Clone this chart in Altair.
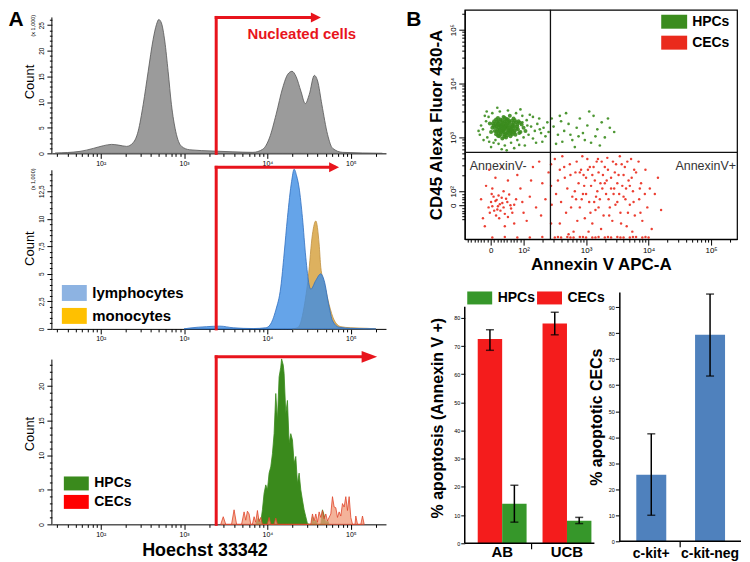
import math
import altair as alt
import pandas as pd

FONT = "Liberation Sans"
GATE_RED = "#e8141c"

# ---------------- Panel A: Hoechst 33342 histograms ----------------
# x positions read on the log axis (in decades), counts in thousands (top, middle) or events (bottom)
all_log10 = [1.454, 1.753, 1.912, 2.032, 2.131, 2.211, 2.311, 2.390, 2.450, 2.510,
             2.570, 2.629, 2.669, 2.697, 2.729, 2.769, 2.809, 2.849, 2.900, 2.968,
             3.068, 3.347, 3.586, 3.825, 3.944, 4.024, 4.104, 4.183, 4.243, 4.295,
             4.343, 4.402, 4.454, 4.502, 4.562, 4.602, 4.653, 4.721, 4.781, 4.900, 5.378]
all_count = [0.06, 0.39, 0.97, 1.49, 1.75, 1.62, 1.36, 2.08, 4.34, 9.53,
             16.0, 22.2, 25.1, 26.1, 25.4, 21.9, 16.0, 9.5, 4.3, 1.4,
             0.7, 0.45, 0.3, 0.2, 0.8, 3.0, 7.6, 12.8, 15.4, 16.0,
             15.0, 12.1, 9.7, 11.5, 15.2, 14.1, 9.5, 3.7, 1.0, 0.2, 0.0]

lym_log10 = [3.00, 3.07, 3.27, 3.43, 3.59, 3.83, 3.98, 4.03, 4.10, 4.16,
             4.20, 4.24, 4.29, 4.32, 4.35, 4.38, 4.42, 4.46, 4.50, 4.52,
             4.58, 4.64, 4.68, 4.74, 4.78, 4.86, 5.00, 5.30]
lym_count = [0, 0.08, 0.2, 0.25, 0.1, 0.03, 0.1, 0.35, 1.7, 3.8,
             6.8, 10.1, 13.4, 14.5, 13.9, 12.8, 10.1, 6.5, 4.0, 3.6,
             4.4, 5.0, 4.4, 2.0, 0.75, 0.15, 0.05, 0]

mono_log10 = [4.30, 4.36, 4.40, 4.44, 4.49, 4.54, 4.58, 4.62, 4.64, 4.68,
              4.74, 4.80, 4.88, 5.00, 5.20, 5.30]
mono_count = [0, 0.1, 0.6, 2.0, 4.7, 8.6, 9.8, 7.7, 5.6, 4.2,
              2.2, 0.8, 0.2, 0.1, 0.05, 0]

hpc_log10 = [3.86, 3.89, 3.92, 3.94, 3.96, 3.98, 4.00, 4.02, 4.04, 4.06,
             4.08, 4.10, 4.12, 4.14, 4.16, 4.17, 4.19, 4.20, 4.22, 4.24,
             4.26, 4.28, 4.30, 4.32, 4.34, 4.36, 4.38, 4.40, 4.42, 4.44,
             4.46, 4.48, 4.50, 4.53, 4.54, 4.56, 4.58, 4.60, 4.64, 4.66,
             4.68, 4.70, 4.72, 4.74]
hpc_count = [0, 0.9, 0.3, 2.1, 4.5, 5.7, 5.0, 7.4, 8.3, 10.2,
             13.1, 18.9, 15.0, 21.3, 22.7, 23.9, 23.0, 21.8, 16.0, 17.9,
             11.7, 13.1, 12.2, 8.8, 9.8, 5.9, 7.4, 5.0, 3.5, 2.1,
             1.1, 0.1, 0, 0, 1.1, 0.3, 0.6, 0, 0, 2.1,
             1.3, 0.2, 0.6, 0]

cec_log10 = [3.44, 3.47, 3.50, 3.57, 3.60, 3.63, 3.69, 3.72, 3.74, 3.76,
             3.78, 3.80, 3.82, 3.84, 3.86, 3.88, 3.90, 3.92, 3.94, 4.00,
             4.02, 4.04, 4.08, 4.10, 4.12, 4.52, 4.54, 4.56, 4.58, 4.60,
             4.62, 4.64, 4.66, 4.68, 4.70, 4.72, 4.76, 4.78, 4.80, 4.82,
             4.84, 4.86, 4.88, 4.90, 4.92, 4.94, 4.96, 4.98, 5.00, 5.02,
             5.05, 5.06, 5.08, 5.12, 5.14, 5.16]
cec_count = [0, 1.1, 0, 0, 2.1, 0, 0, 1.8, 0.6, 1.9,
             1.5, 0, 0, 1.1, 0.3, 2.0, 0.4, 1.0, 0, 0,
             1.0, 0, 0, 0.9, 0, 0, 1.5, 0.5, 1.5, 0.3,
             1.8, 1.0, 2.0, 0.8, 1.5, 0.5, 1.5, 4.0, 2.5, 2.4,
             1.0, 1.8, 1.2, 3.0, 2.5, 4.0, 2.0, 4.0, 1.0, 0,
             0, 1.2, 0, 0, 1.2, 0]

gate_value = 2430                      # nucleated-cell gate
arrow_tip = {"top": 38100, "mid": 63000, "bot": 167000}

# ---------------- Panel B: CD45 / Annexin V dot plot (display decades) ----------------
hpc_core = [
    (1.70, 3.19), (1.62, 3.22), (1.78, 3.15), (1.66, 3.28), (1.74, 3.10), (1.58, 3.14), (1.82, 3.24), (1.69, 3.05), (1.55, 3.25), (1.86, 3.12),
    (1.63, 3.33), (1.77, 3.30), (1.50, 3.18), (1.90, 3.20), (1.72, 3.00), (1.60, 3.08), (1.84, 3.35), (1.68, 3.38), (1.53, 3.30), (1.95, 3.10),
    (1.75, 3.22), (1.65, 3.17), (1.80, 3.08), (1.57, 3.20), (1.71, 3.26), (1.88, 3.28), (1.61, 3.02), (1.79, 3.02), (1.48, 3.10), (2.00, 3.18),
    (1.67, 3.12), (1.73, 3.34), (1.59, 3.36), (1.83, 3.17), (1.52, 3.22), (1.92, 3.30), (1.64, 3.24), (1.76, 3.13), (1.70, 3.29), (1.56, 3.06),
    (1.87, 3.05), (1.81, 3.31), (1.62, 3.15), (1.74, 3.18), (1.68, 3.21), (1.97, 3.24), (1.46, 3.26), (1.66, 2.98), (1.78, 3.40), (1.54, 3.12),
    (2.03, 3.12), (1.91, 3.15), (1.58, 3.29), (1.72, 3.07), (1.85, 3.21), (1.64, 3.09), (1.77, 3.26), (1.69, 3.14), (1.60, 3.19), (1.82, 3.12),
    (1.64, 3.20), (1.72, 3.16), (1.60, 3.26), (1.80, 3.20), (1.68, 3.10), (1.76, 3.28), (1.57, 3.11), (1.84, 3.27), (1.71, 3.22), (1.63, 3.05),
    (1.79, 3.12), (1.66, 3.32), (1.74, 3.04), (1.88, 3.16), (1.54, 3.19), (1.70, 3.36), (1.82, 3.06), (1.61, 3.30), (1.90, 3.24), (1.67, 3.15),
    (1.73, 3.24), (1.58, 3.24), (1.86, 3.32), (1.69, 3.01), (1.77, 3.19), (1.65, 3.21), (1.93, 3.08), (1.51, 3.26), (1.81, 3.15), (1.75, 3.33),
    (1.62, 3.12), (1.78, 3.07), (1.66, 3.25), (1.85, 3.09), (1.59, 3.03), (1.72, 3.31), (1.94, 3.27), (1.56, 3.33), (1.83, 3.21), (1.69, 3.18),
]
hpc_sparse = [
    (1.40, 3.30), (1.35, 3.15), (1.42, 3.00), (1.38, 3.40), (1.45, 2.92), (1.52, 2.90), (1.60, 2.88), (1.70, 2.85), (1.80, 2.90), (1.90, 2.95),
    (2.00, 3.00), (2.08, 3.05), (2.12, 3.20), (2.05, 3.32), (1.98, 3.40), (1.88, 3.45), (1.75, 3.50), (1.62, 3.48), (1.50, 3.45), (1.44, 3.38),
    (2.18, 3.12), (2.22, 3.25), (2.28, 3.08), (2.15, 2.98), (2.25, 3.35), (2.32, 3.18), (2.35, 3.02), (2.38, 3.28), (2.10, 3.42), (2.20, 2.90),
    (1.32, 3.22), (1.30, 3.05), (1.48, 2.82), (1.65, 2.78), (1.85, 2.80), (1.58, 3.55), (1.95, 3.52), (2.02, 2.85), (1.36, 2.95), (2.30, 2.92),
    (1.41, 3.48), (2.15, 3.38), (1.93, 2.86), (1.55, 2.95), (2.06, 3.22), (2.26, 3.15), (1.28, 3.12), (2.40, 3.10), (1.73, 2.76), (1.98, 3.28),
    (2.48, 3.20), (2.55, 3.05), (2.60, 3.30), (2.65, 3.12), (2.72, 3.25), (2.78, 2.95), (2.85, 3.18), (2.90, 3.35), (2.95, 3.08), (3.02, 3.22),
    (3.08, 2.90), (3.12, 3.40), (3.18, 3.15), (3.25, 3.28), (3.30, 3.00), (3.38, 3.18), (3.45, 3.10), (2.52, 2.88), (2.68, 3.45), (2.82, 2.82),
    (3.05, 3.48), (2.58, 3.40), (2.75, 3.05), (2.98, 2.95), (3.15, 3.02), (3.22, 2.85), (2.45, 3.35), (2.88, 3.02), (3.35, 3.35), (2.62, 2.92),
]
cec_points = [
    (1.62, 1.76), (1.55, 1.82), (1.68, 1.70), (1.50, 1.72), (1.74, 1.80), (1.58, 1.66), (1.65, 1.88), (1.46, 1.60), (1.80, 1.68), (1.60, 1.92),
    (1.70, 1.58), (1.52, 1.90), (1.77, 1.94), (1.48, 1.80), (1.85, 1.75), (1.63, 1.64), (1.56, 1.55), (1.72, 1.86), (1.66, 1.78), (1.59, 1.72),
    (1.82, 1.60), (1.44, 1.70), (1.75, 1.52), (1.53, 1.64), (1.88, 1.85), (1.68, 2.00), (1.61, 1.50), (1.49, 1.95), (1.79, 1.74), (1.57, 1.84),
    (1.40, 2.10), (1.95, 2.05), (2.10, 1.90), (2.20, 1.70), (1.35, 1.50), (2.05, 1.45), (1.90, 2.30), (1.55, 2.25), (2.30, 2.15), (1.45, 2.40),
    (2.15, 2.45), (2.35, 1.85), (1.32, 1.85), (2.00, 1.60), (1.75, 2.20), (2.25, 2.55), (1.38, 1.35), (1.85, 1.40), (2.40, 2.35), (1.65, 2.45),
    (2.12, 2.20), (1.98, 1.80), (2.28, 1.55), (1.50, 2.05), (1.70, 1.35),
    (2.50, 2.60), (2.55, 2.20), (2.60, 1.80), (2.58, 1.40), (2.65, 2.45), (2.70, 2.05), (2.68, 1.60), (2.75, 2.30), (2.78, 1.90), (2.80, 1.25),
    (2.85, 2.55), (2.88, 2.15), (2.90, 1.70), (2.92, 2.40), (2.95, 1.95), (2.98, 1.50), (3.00, 2.25), (3.02, 2.60), (3.05, 1.80), (3.08, 2.10),
    (3.10, 1.40), (3.12, 2.45), (3.15, 1.65), (3.18, 2.00), (3.20, 2.35), (3.22, 1.85), (3.25, 2.55), (3.28, 1.55), (3.30, 2.15), (3.32, 1.95),
    (3.35, 2.40), (3.38, 1.70), (3.40, 2.25), (3.42, 1.45), (3.45, 2.05), (3.48, 2.50), (3.50, 1.80), (3.52, 2.30), (3.55, 1.60), (3.58, 2.10),
    (3.60, 1.90), (3.62, 2.45), (3.65, 1.35), (3.68, 2.20), (3.70, 1.75), (3.72, 2.60), (3.75, 2.00), (3.78, 1.55), (3.80, 2.35), (3.85, 1.85),
    (3.88, 2.15), (3.90, 1.45), (3.95, 2.40), (3.98, 1.70), (4.02, 2.05), (4.05, 1.30), (4.10, 1.95), (4.15, 2.25), (4.20, 1.65), (2.62, 2.65),
    (2.72, 1.20), (2.82, 2.00), (2.94, 2.65), (3.04, 1.25), (3.14, 2.20), (3.24, 1.30), (3.34, 2.62), (3.44, 1.95), (3.54, 2.65), (3.64, 2.05),
    (3.74, 1.25), (3.84, 2.55), (3.94, 1.95), (2.52, 1.95), (2.66, 2.25), (2.76, 1.70), (2.86, 1.45), (2.96, 2.30), (3.06, 2.45), (3.16, 1.90),
    (3.26, 2.05), (3.36, 1.85), (3.46, 2.35), (3.56, 1.40), (3.66, 2.55), (3.76, 1.80), (3.86, 2.05), (2.58, 2.40), (2.74, 2.50), (2.84, 1.85),
    (2.97, 2.10), (3.07, 1.60), (3.17, 2.55), (3.27, 2.30), (3.37, 1.55), (3.47, 1.75), (3.57, 2.50), (3.67, 1.60), (3.77, 2.40), (3.87, 1.60),
    (2.90, 2.35), (3.00, 1.95), (3.10, 2.30), (3.20, 1.70), (3.30, 2.45), (3.40, 2.05), (3.50, 2.15), (3.60, 2.30), (3.70, 2.10), (3.53, 1.95),
    (3.13, 1.80), (3.23, 2.15), (3.33, 2.20), (3.43, 2.55), (3.03, 2.40), (2.93, 1.85), (3.63, 1.85), (3.73, 2.25), (2.83, 2.35), (3.19, 2.60),
    (2.50, 1.14), (2.60, 1.14), (2.70, 1.15), (2.80, 1.14), (2.90, 1.15), (3.00, 1.14), (3.10, 1.14), (3.20, 1.15), (3.30, 1.14), (3.40, 1.14),
    (3.50, 1.15), (3.60, 1.14), (3.70, 1.14), (3.80, 1.15), (3.90, 1.14), (4.00, 1.14), (2.55, 1.15), (2.75, 1.14), (2.95, 1.15), (3.15, 1.14),
    (3.35, 1.15), (3.55, 1.14), (3.75, 1.15), (3.95, 1.15), (1.50, 1.14), (1.70, 1.15), (1.90, 1.14), (2.10, 1.14), (2.30, 1.15),
    (2.44, 2.50), (2.44, 2.10), (2.45, 1.75), (2.44, 1.40),
]
quad_x, quad_y = 2.43, 2.72

# ---------------- Panel B bars ----------------
bar_groups = ["AB", "AB", "UCB", "UCB"]
bar_series = ["CECs", "HPCs", "CECs", "HPCs"]
bar_mean = [72.5, 14.0, 78.0, 8.0]
bar_lo = [68.5, 7.5, 74.0, 7.0]
bar_hi = [75.8, 20.6, 82.0, 9.2]

kit_groups = ["c-kit+", "c-kit-neg"]
kit_mean = [25.6, 79.4]
kit_lo = [10.0, 63.5]
kit_hi = [41.3, 95.0]


# ---------------- helpers ----------------
def rect_path(w, h):
    r = w / h
    return f"M{-r:.3f},-1H{r:.3f}V1H{-r:.3f}Z"


def px_text(text, x, y, size, weight="normal", angle=0, color="black", align="center"):
    return alt.Chart(pd.DataFrame({"t": [text]})).mark_text(
        font=FONT, fontSize=size, fontWeight=weight, angle=angle, color=color,
        align=align, baseline="middle").encode(x=alt.value(x), y=alt.value(y), text="t:N")


def px_hline(x1, x2, y, width=1.5):
    return alt.Chart(pd.DataFrame({"k": [0]})).mark_rule(color="black", strokeWidth=width).encode(
        x=alt.value(x1), x2=alt.value(x2), y=alt.value(y))


def px_vline(x, y1, y2, width=1.2):
    return alt.Chart(pd.DataFrame({"k": [0]})).mark_rule(color="black", strokeWidth=width).encode(
        x=alt.value(x), y=alt.value(y1), y2=alt.value(y2))


def hist_df(logs, counts):
    return pd.DataFrame({"x": [10 ** v for v in logs], "y": counts})


XDOM = [26, 264000]
XTICKS = sorted({k * 10 ** n for n in range(1, 6) for k in range(1, 10) if 30 <= k * 10 ** n <= 200000})
XLAB = ("datum.value == 100 ? '10²' : datum.value == 1000 ? '10³' : "
        "datum.value == 10000 ? '10⁴' : datum.value == 100000 ? '10⁵' : ''")
XMAJ = "datum.value == 100 || datum.value == 1000 || datum.value == 10000 || datum.value == 100000"


def hist_base(ymax, yticks, ylab, ymaj, axis_top, arrow_y, tip_x, head_path, head_size,
              areas, xtitle=None):
    xs = alt.Scale(type="log", domain=XDOM, nice=False)
    xkw = dict(values=XTICKS, labelExpr=XLAB,
               tickSize={"condition": {"test": XMAJ, "value": 5}, "value": 3},
               labelFontSize=7, labelPadding=1, labelOverlap=False, labelFlush=False,
               domainWidth=1, tickWidth=1, title=xtitle)
    if xtitle:
        xkw.update(titleFontSize=18, titleFontWeight="bold", titlePadding=4, titleX=153)
    xa = alt.Axis(**xkw)
    ys = alt.Scale(domain=[0, ymax], nice=False)
    ya = alt.Axis(values=yticks, labelExpr=ylab,
                  tickSize={"condition": {"test": ymaj, "value": 5}, "value": 2.5},
                  labelAngle=270, labelAlign="center", labelBaseline="bottom",
                  labelFontSize=6.5, labelPadding=2, labelOverlap=False, domain=False,
                  tickWidth=1, title="Count", titleFontSize=13, titleFontWeight="normal",
                  titlePadding=2)

    def X(f):
        return alt.X(f, type="quantitative", scale=xs, axis=xa)

    def Y(f):
        return alt.Y(f, type="quantitative", scale=ys, axis=ya)

    layers = []
    for df, fill, stroke, op, interp in areas:
        layers.append(alt.Chart(df).mark_area(fill=fill, stroke=stroke, strokeWidth=0.8,
                                              fillOpacity=op, interpolate=interp)
                      .encode(x=X("x"), y=Y("y")))
    layers.append(alt.Chart(pd.DataFrame({"a": [0], "b": [axis_top]}))
                  .mark_rule(color="black", strokeWidth=1)
                  .encode(x=alt.value(0), y=Y("a"), y2="b:Q"))
    gate = pd.DataFrame({"x": [gate_value], "xe": [tip_x], "y0": [0], "yt": [arrow_y]})
    layers.append(alt.Chart(gate).mark_rule(color=GATE_RED, strokeWidth=3, strokeCap="square")
                  .encode(x=X("x"), y=Y("y0"), y2="yt:Q"))
    layers.append(alt.Chart(gate).mark_rule(color=GATE_RED, strokeWidth=3, strokeCap="square")
                  .encode(x=X("x"), x2="xe:Q", y=Y("yt")))
    layers.append(alt.Chart(gate).mark_point(shape=head_path, size=head_size, filled=True,
                                             color=GATE_RED, opacity=1, strokeWidth=0)
                  .encode(x=X("xe"), y=Y("yt")))
    return layers, X, Y


def legend_layer(names, colors, leg):
    return (alt.Chart(pd.DataFrame({"s": names})).transform_filter("false").mark_square()
            .encode(color=alt.Color("s:N", scale=alt.Scale(domain=names, range=colors), legend=leg)))


HEAD10 = "M-1,-1L1,0L-1,1Z"
HEADBIG = "M-1,-0.75L1,0L-1,0.75Z"
TOP_GUIDE = -12   # invisible spacer so both columns share the same top extent

# ---- top histogram (plot 144 px tall; counts x 1,000)
layers, X, Y = hist_base(28.0, list(range(0, 27)),
                         "datum.value % 5 === 0 ? toString(datum.value) : ''", "datum.value % 5 === 0",
                         26.5, 26.5, arrow_tip["top"], HEAD10, 100,
                         [(hist_df(all_log10, all_count), "#9b9b9b", "#555555", 1, "monotone")])
layers.append(alt.Chart(pd.DataFrame({"x": [5750], "y": [23.3], "t": ["Nucleated cells"]}))
              .mark_text(font=FONT, fontSize=15, fontWeight="bold", color=GATE_RED, align="left",
                         baseline="middle").encode(x=X("x"), y=Y("y"), text="t:N"))
layers.append(px_text("(x 1,000)", -19, 16, 5.5, angle=270))
layers.append(px_text("A", -36, 10, 21, weight="bold"))
layers.append(px_text(" ", 100, TOP_GUIDE, 10))
top = alt.layer(*layers).properties(width=335, height=144)

# ---- middle histogram (plot 162 px tall; counts x 1,000)
layers, X, Y = hist_base(14.67, [i * 0.5 for i in range(0, 29)],
                         "datum.value % 2.5 === 0 ? replace(toString(datum.value), '.', ',') : ''",
                         "datum.value % 2.5 === 0",
                         14.4, 14.67, arrow_tip["mid"], HEAD10, 100,
                         [(hist_df(mono_log10, mono_count), "#d9a84e", "#c09040", 0.9, "monotone"),
                          (hist_df(lym_log10, lym_count), "#3f8de3", "#2f6fc0", 0.8, "monotone")])
layers.append(legend_layer(["lymphocytes", "monocytes"], ["#8db3e2", "#ffc000"],
                           alt.Legend(title=None, orient="none", legendX=14.5, legendY=118,
                                      symbolType=rect_path(25, 16), symbolSize=256, symbolStrokeWidth=0,
                                      symbolOpacity=1, labelFontSize=15, labelFontWeight="bold",
                                      rowPadding=7, labelOffset=10, padding=0)))
layers.append(px_text("(x 1,000)", -19, 12, 5.5, angle=270))
mid = alt.layer(*layers).properties(width=335, height=162)

# ---- bottom histogram (plot 182 px tall incl. 14 px headroom; events)
layers, X, Y = hist_base(26.22, list(range(0, 24)),
                         "datum.value % 5 === 0 ? toString(datum.value) : ''", "datum.value % 5 === 0",
                         23.8, 24.2, arrow_tip["bot"], HEADBIG, 243,
                         [(hist_df(hpc_log10, hpc_count), "#3a8a1c", "#3a8a1c", 1, "linear"),
                          (hist_df(cec_log10, cec_count), "#f09a78", "#e0442a", 0.75, "linear")],
                         xtitle="Hoechst 33342")
layers.append(legend_layer(["HPCs", "CECs"], ["#3a8a1c", "#ff0000"],
                           alt.Legend(title=None, orient="none", legendX=17.5, legendY=134,
                                      symbolType=rect_path(25, 14), symbolSize=196, symbolStrokeWidth=0,
                                      symbolOpacity=1, labelFontSize=14, labelFontWeight="bold",
                                      rowPadding=4.5, labelOffset=11, padding=0)))
bot = alt.layer(*layers).properties(width=335, height=182)

# ---------------- scatter ----------------
def pts(points, name):
    return pd.DataFrame({"x": [p[0] for p in points], "y": [p[1] for p in points], "pop": name})


sx_major = [1.474, 2, 3, 4, 5]
sx_ticks = sorted(set(sx_major
                      + [round(1.474 + 0.00526 * v, 4) for v in range(-70, 100, 10) if v]
                      + [round(n + math.log10(k), 4) for n in (2, 3, 4) for k in range(2, 10)]
                      + [round(5 + math.log10(2), 4)]))
sy_major = [1.741, 2, 3, 4, 5]
sy_ticks = sorted(set(sy_major
                      + [round(1.741 + 0.00259 * v, 4) for v in range(-100, 100, 20) if v]
                      + [round(n + math.log10(k), 4) for n in (2, 3, 4) for k in range(2, 10)]
                      + [round(5 + math.log10(2), 4)]))


def dec_labels(zero):
    return (f"datum.value === {zero} ? '0' : datum.value === 2 ? '10²' : datum.value === 3 ? '10³' : "
            "datum.value === 4 ? '10⁴' : datum.value === 5 ? '10⁵' : ''")


SXA = alt.Axis(values=sx_ticks, labelExpr=dec_labels(1.474),
               tickSize={"condition": {"test": "indexof([1.474, 2, 3, 4, 5], datum.value) >= 0", "value": 6}, "value": 3},
               labelFontSize=8, labelPadding=1, labelOverlap=False, labelFlush=False, domainWidth=1.2,
               title="Annexin V APC-A", titleFontSize=17, titleFontWeight="bold", titlePadding=2)
SYA = alt.Axis(values=sy_ticks, labelExpr=dec_labels(1.741),
               tickSize={"condition": {"test": "indexof([1.741, 2, 3, 4, 5], datum.value) >= 0", "value": 6}, "value": 3},
               labelAngle=270, labelAlign="center", labelBaseline="bottom",
               labelFontSize=8, labelPadding=1, labelOverlap=False, labelFlush=False, domainWidth=1.2,
               title="CD45 Alexa Fluor 430-A", titleFontSize=17, titleFontWeight="bold", titlePadding=4)
SXS = alt.Scale(domain=[1.059, 5.415], nice=False, zero=False)
SYS = alt.Scale(domain=[1.111, 5.370], nice=False, zero=False)


def SX(f):
    return alt.X(f, type="quantitative", scale=SXS, axis=SXA)


def SY(f):
    return alt.Y(f, type="quantitative", scale=SYS, axis=SYA)


POPCOL = alt.Color("pop:N", scale=alt.Scale(domain=["HPCs", "CECs"], range=["#3b8c1e", "#ea2a1c"]),
                   legend=alt.Legend(title=None, orient="none", legendX=203, legendY=5,
                                     symbolType=rect_path(26, 14), symbolSize=196, symbolStrokeWidth=0,
                                     symbolOpacity=1, labelFontSize=14, labelFontWeight="bold",
                                     rowPadding=7, labelOffset=11, padding=0))
quad = pd.DataFrame({"qx": [quad_x], "qy": [quad_y]})
scatter = alt.layer(
    alt.Chart(pts(cec_points, "CECs")).mark_circle(size=6, opacity=0.9).encode(x=SX("x"), y=SY("y"), color=POPCOL),
    alt.Chart(pts(hpc_sparse, "HPCs")).mark_circle(size=7, opacity=0.9).encode(x=SX("x"), y=SY("y"), color=POPCOL),
    alt.Chart(pts(hpc_core, "HPCs")).mark_circle(size=16, opacity=0.9).encode(x=SX("x"), y=SY("y"), color=POPCOL),
    alt.Chart(quad).mark_rule(color="#111111", strokeWidth=1.3).encode(x=SX("qx")),
    alt.Chart(quad).mark_rule(color="#111111", strokeWidth=1.3).encode(y=SY("qy")),
    alt.Chart(pd.DataFrame({"x": [1.139], "y": [2.463], "t": ["AnnexinV-"]}))
    .mark_text(font=FONT, fontSize=12.5, color="#333333", align="left", baseline="middle")
    .encode(x=SX("x"), y=SY("y"), text="t:N"),
    alt.Chart(pd.DataFrame({"x": [5.399], "y": [2.463], "t": ["AnnexinV+"]}))
    .mark_text(font=FONT, fontSize=12.5, color="#333333", align="right", baseline="middle")
    .encode(x=SX("x"), y=SY("y"), text="t:N"),
    px_text("B", -51, 10, 21, weight="bold"),
    px_text(" ", 100, TOP_GUIDE, 10),
).properties(width=273, height=230, view=alt.ViewBackground(stroke="black", strokeWidth=1.2))

# ---------------- bar charts (one view, two independent scale sets) ----------------
bdf = pd.DataFrame({"group": bar_groups, "series": bar_series, "mean": bar_mean, "lo": bar_lo, "hi": bar_hi})
B1X = alt.X("group:N", sort=["AB", "UCB"],
            scale=alt.Scale(range=[13, 127], paddingInner=0.246, paddingOuter=0),
            axis=alt.Axis(title=None, labelAngle=0, labelFontSize=15, labelFontWeight="bold", ticks=False,
                          labelPadding=1, domain=False))
B1O = alt.XOffset("series:N", sort=["CECs", "HPCs"], scale=alt.Scale(paddingInner=0, paddingOuter=0))
B1YS = alt.Scale(domain=[0, 89.2], nice=False)
B1YA = alt.Axis(values=list(range(0, 90, 10)), domain=False, tickSize=4, tickWidth=1, labelFontSize=5.5,
                labelPadding=1, title="% apoptosis (Annexin V +)", titleFontSize=16, titleFontWeight="bold",
                titlePadding=8)


def B1Y(f):
    return alt.Y(f, type="quantitative", scale=B1YS, axis=B1YA)


B1C = alt.Color("series:N", scale=alt.Scale(domain=["HPCs", "CECs"], range=["#36972a", "#f41c1c"]),
                legend=alt.Legend(title=None, orient="none", legendX=8, legendY=-1, direction="horizontal",
                                  symbolType=rect_path(25, 13), symbolSize=169, symbolStrokeWidth=0,
                                  symbolOpacity=1, labelFontSize=14, labelFontWeight="bold",
                                  labelOffset=11, columnPadding=1, padding=0))
bar1 = alt.layer(
    alt.Chart(bdf).mark_bar().encode(x=B1X, xOffset=B1O, y=B1Y("mean"), color=B1C),
    alt.Chart(bdf).mark_rule(color="black", strokeWidth=1.5).encode(x=B1X, xOffset=B1O, y=B1Y("lo"), y2="hi:Q"),
    alt.Chart(bdf).mark_tick(color="black", thickness=1.5, size=8).encode(x=B1X, xOffset=B1O, y=B1Y("lo")),
    alt.Chart(bdf).mark_tick(color="black", thickness=1.5, size=8).encode(x=B1X, xOffset=B1O, y=B1Y("hi")),
    alt.Chart(pd.DataFrame({"a": [0], "b": [84]})).mark_rule(color="black", strokeWidth=1.5)
    .encode(x=alt.value(0), y=B1Y("a"), y2="b:Q"),
    px_hline(0, 130, 252),
    px_vline(67, 252, 258),
)

kdf = pd.DataFrame({"group": kit_groups, "mean": kit_mean, "lo": kit_lo, "hi": kit_hi})
B2X = alt.X("group:N", sort=kit_groups,
            scale=alt.Scale(range=[172, 261], paddingInner=0.49, paddingOuter=0),
            axis=alt.Axis(title=None, labelAngle=0, labelFontSize=14, labelFontWeight="bold", ticks=False,
                          labelPadding=3, domain=False, labelOverlap=False, orient="bottom"))
B2YS = alt.Scale(domain=[0, 95.8], range=[250, 0], nice=False)
B2YA = alt.Axis(values=list(range(0, 100, 10)), orient="left", offset=-155, domainWidth=1.5, tickSize=4,
                tickWidth=1, labelFontSize=5.5, labelPadding=1, title="% apoptotic CECs", titleFontSize=16,
                titleFontWeight="bold", titlePadding=4)


def B2Y(f):
    return alt.Y(f, type="quantitative", scale=B2YS, axis=B2YA)


bar2 = alt.layer(
    alt.Chart(kdf).mark_bar(color="#4f81bd").encode(x=B2X, y=B2Y("mean")),
    alt.Chart(kdf).mark_rule(color="black", strokeWidth=1.5).encode(x=B2X, y=B2Y("lo"), y2="hi:Q"),
    alt.Chart(kdf).mark_tick(color="black", thickness=1.5, size=8).encode(x=B2X, y=B2Y("lo")),
    alt.Chart(kdf).mark_tick(color="black", thickness=1.5, size=8).encode(x=B2X, y=B2Y("hi")),
    px_hline(155, 277, 250),
    px_vline(216, 250, 256),
)

bars = (alt.layer(bar1, bar2)
        .resolve_scale(x="independent", y="independent", color="independent")
        .resolve_axis(x="independent", y="independent")
        .properties(width=130, height=252))

left = alt.vconcat(top, mid, bot, spacing=14, bounds="flush").resolve_scale(color="independent").resolve_legend(color="independent")
right = alt.vconcat(scatter, bars, spacing=53, bounds="flush").resolve_scale(color="independent").resolve_legend(color="independent")
chart = (alt.hconcat(left, right, spacing=19)
         .resolve_scale(color="independent").resolve_legend(color="independent")
         .properties(padding={"top": -17, "left": 0, "right": 0, "bottom": 0})
         .configure(font=FONT)
         .configure_view(stroke=None)
         .configure_axis(grid=False, domainColor="black", tickColor="black", labelColor="black",
                         titleColor="black", labelFont=FONT, titleFont=FONT)
         .configure_legend(labelFont=FONT, labelColor="black"))

chart.save("out.html", embed_options={"renderer": "svg", "actions": False})
